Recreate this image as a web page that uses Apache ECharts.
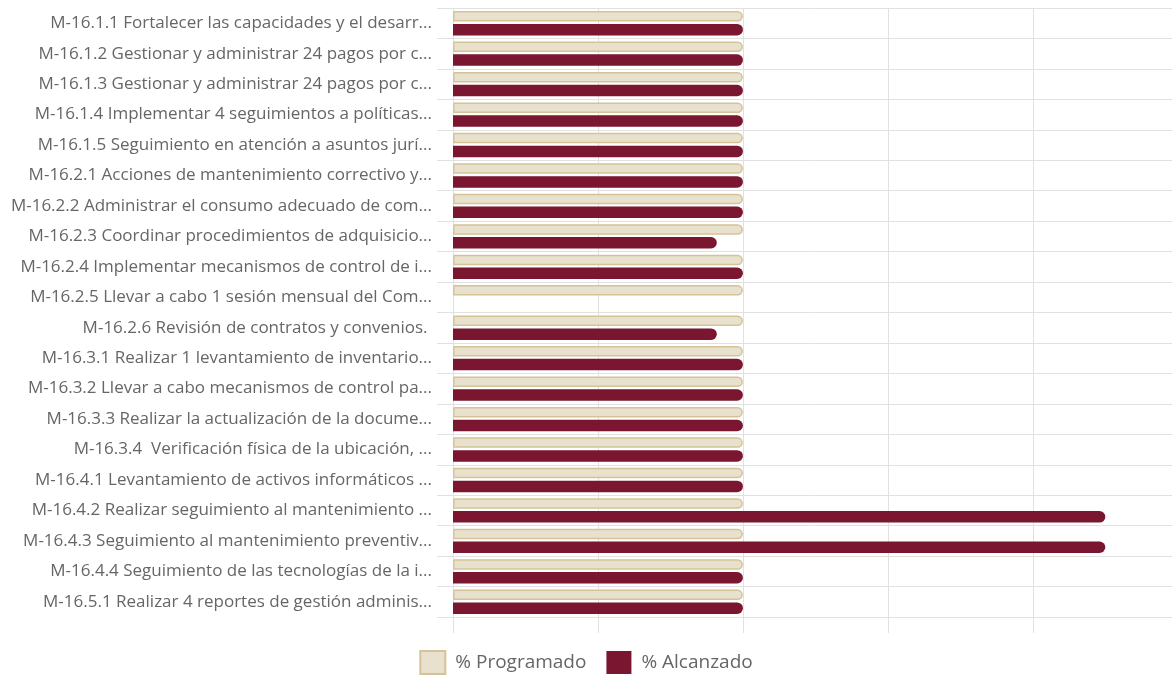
<!DOCTYPE html>
<html lang="es">

<head>
    <meta charset="UTF-8">
    <title>Avance de metas</title>
    <style>
        html, body { margin: 0; padding: 0; background: #fff; }
        #main { width: 1172px; height: 675px; }
    </style>
</head>

<body>
    <div id="main"></div>
</body>
<script src="https://cdn.jsdelivr.net/npm/echarts@6/dist/echarts.min.js"></script>
<script>
    // categorias (etiquetas como aparecen, ya recortadas)
    var categories = [
        'M-16.1.1 Fortalecer las capacidades y el desarr...',
        'M-16.1.2 Gestionar y administrar 24 pagos por c...',
        'M-16.1.3 Gestionar y administrar 24 pagos por c...',
        'M-16.1.4 Implementar 4 seguimientos a políticas...',
        'M-16.1.5 Seguimiento en atención a asuntos jurí...',
        'M-16.2.1 Acciones de mantenimiento correctivo y...',
        'M-16.2.2 Administrar el consumo adecuado de com...',
        'M-16.2.3 Coordinar procedimientos de adquisicio...',
        'M-16.2.4 Implementar mecanismos de control de i...',
        'M-16.2.5 Llevar a cabo 1 sesión mensual del Com...',
        'M-16.2.6 Revisión de contratos y convenios. ',
        'M-16.3.1 Realizar 1 levantamiento de inventario...',
        'M-16.3.2 Llevar a cabo mecanismos de control pa...',
        'M-16.3.3 Realizar la actualización de la docume...',
        'M-16.3.4  Verificación física de la ubicación, ...',
        'M-16.4.1 Levantamiento de activos informáticos ...',
        'M-16.4.2 Realizar seguimiento al mantenimiento ...',
        'M-16.4.3 Seguimiento al mantenimiento preventiv...',
        'M-16.4.4 Seguimiento de las tecnologías de la i...',
        'M-16.5.1 Realizar 4 reportes de gestión adminis...'
    ];
    var programado = [100, 100, 100, 100, 100, 100, 100, 100, 100, 100, 100, 100, 100, 100, 100, 100, 100, 100, 100, 100];
    var alcanzado = [100, 100, 100, 100, 100, 100, 100, 91, 100, 0, 91, 100, 100, 100, 100, 100, 225, 225, 100, 100];

    var gris = '#e1e1e1';
    var myChart = echarts.init(document.getElementById('main'));

    var option = {
        animation: false,
        textStyle: { fontFamily: '"Open Sans", sans-serif' },
        legend: {
            bottom: 0,
            left: 'center',
            padding: 0,
            itemWidth: 25,
            itemHeight: 23,
            itemGap: 20,
            icon: 'rect',
            textStyle: { fontSize: 19, color: '#666', padding: [0, 0, 0, 5] },
            data: ['% Programado', '% Alcanzado']
        },
        grid: {
            left: 453,
            right: 0,
            top: 8,
            bottom: 58
        },
        xAxis: {
            type: 'value',
            min: 0,
            max: 248,
            interval: 50,
            axisLabel: { show: false },
            axisLine: { show: false },
            axisTick: { show: true, length: 16, lineStyle: { color: gris } },
            splitLine: { show: true, lineStyle: { color: gris } }
        },
        yAxis: {
            type: 'category',
            inverse: true,
            data: categories,
            axisLine: { show: false },
            axisTick: { show: true, length: 16, lineStyle: { color: gris } },
            splitLine: { show: true, lineStyle: { color: gris } },
            axisLabel: { fontSize: 17, color: '#666', margin: 21 }
        },
        series: [
            {
                name: '% Programado',
                type: 'bar',
                data: programado,
                barWidth: 10.5,
                barGap: '22%',
                itemStyle: {
                    color: '#e8e1cd',
                    borderColor: '#d4c397',
                    borderWidth: 1.5,
                    borderRadius: [0, 5, 5, 0]
                }
            },
            {
                name: '% Alcanzado',
                type: 'bar',
                data: alcanzado,
                barWidth: 11.5,
                itemStyle: {
                    color: '#7a1630',
                    borderRadius: [0, 6, 6, 0]
                }
            }
        ]
    };
    myChart.setOption(option);
</script>

</html>
